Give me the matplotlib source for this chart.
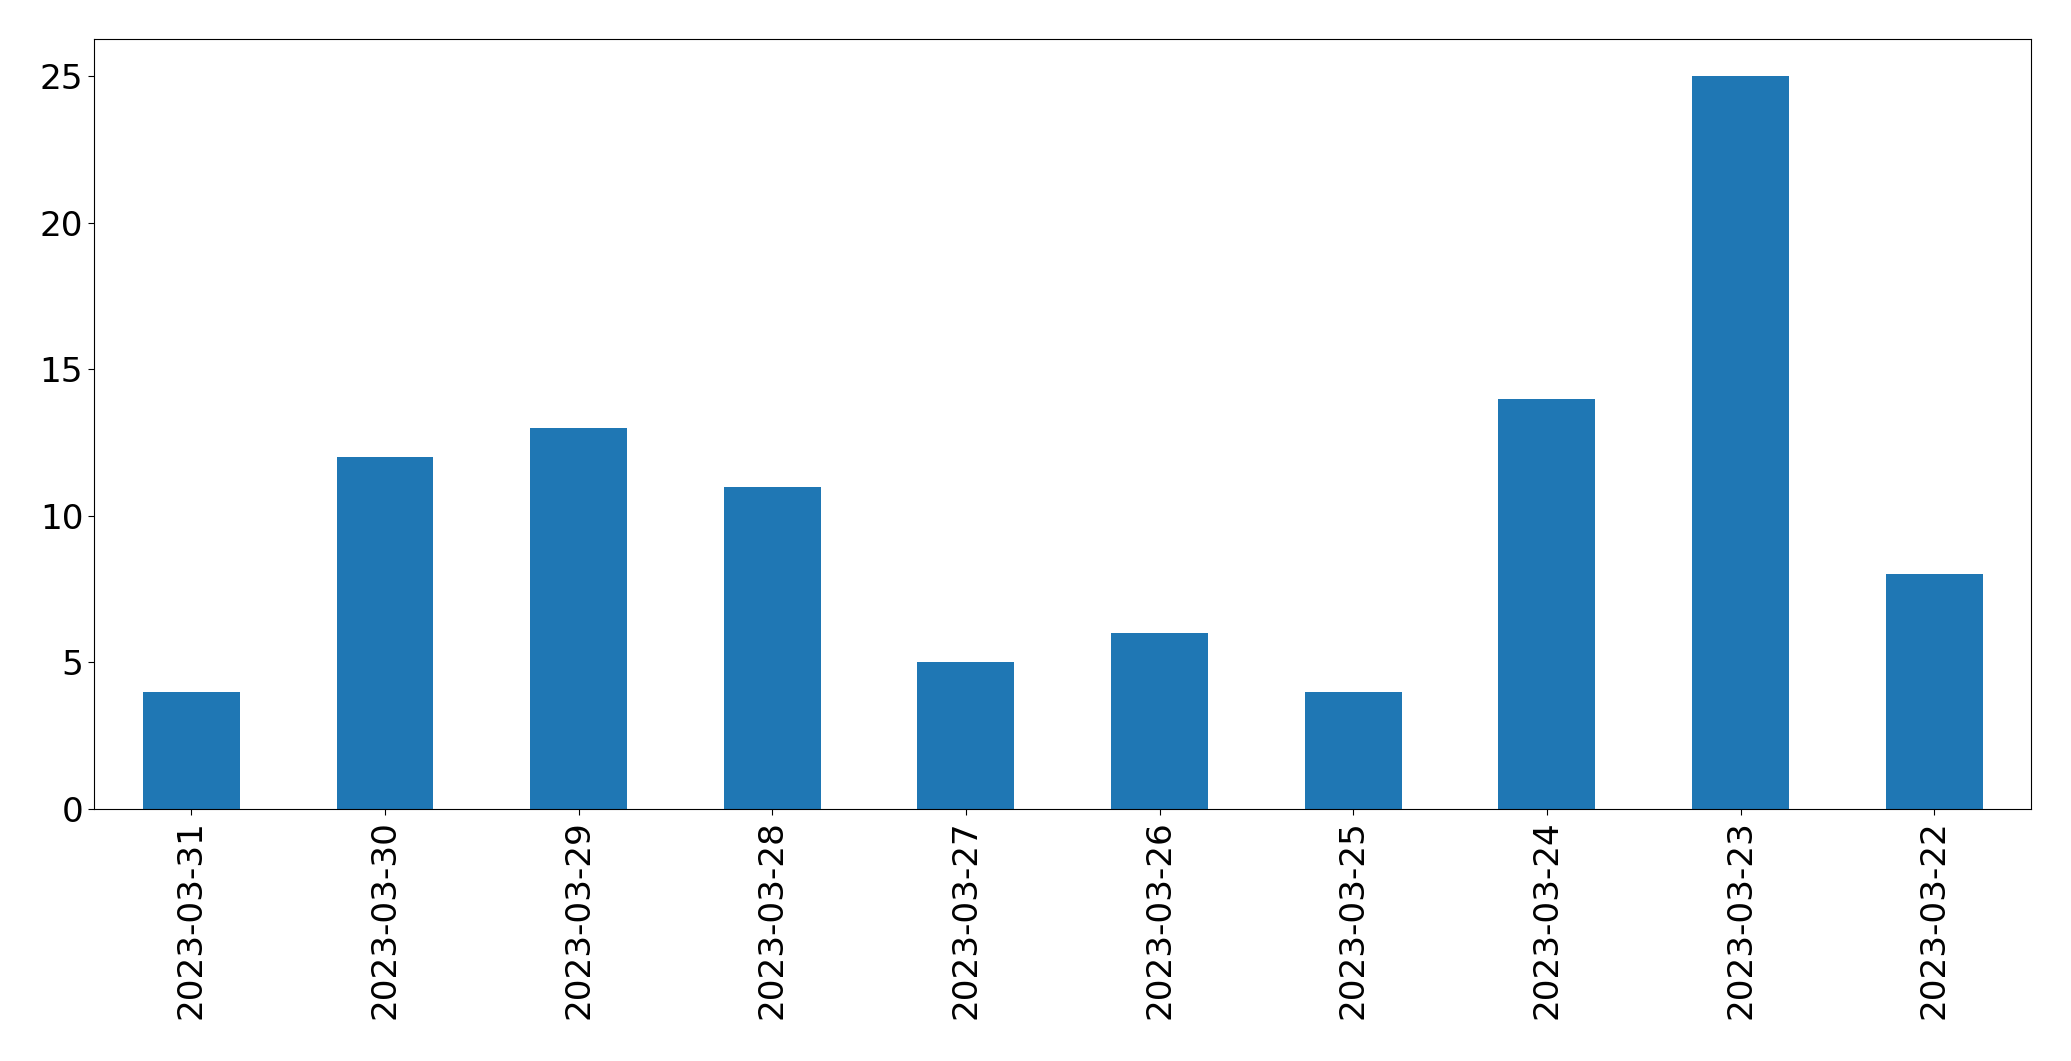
import matplotlib
matplotlib.use("Agg")
import matplotlib.pyplot as plt
import numpy as np

# dates (newest first) and counts
dates = ["2023-03-31", "2023-03-30", "2023-03-29", "2023-03-28", "2023-03-27",
         "2023-03-26", "2023-03-25", "2023-03-24", "2023-03-23", "2023-03-22"]
counts = [4, 12, 13, 11, 5, 6, 4, 14, 25, 8]

fig = plt.figure(figsize=(20.71, 10.61), dpi=100)
ax = fig.add_axes([0.0456, 0.2375, 0.9351, 0.7253])

x = np.arange(len(dates))
ax.bar(x, counts, width=0.5, color="#1f77b4")
ax.set_xlim(-0.5, len(dates) - 0.5)
ax.set_xticks(x)
ax.set_xticklabels(dates, rotation=90)
ax.tick_params(labelsize=24.7, length=4.5)

fig.savefig("out.png", dpi=100)
